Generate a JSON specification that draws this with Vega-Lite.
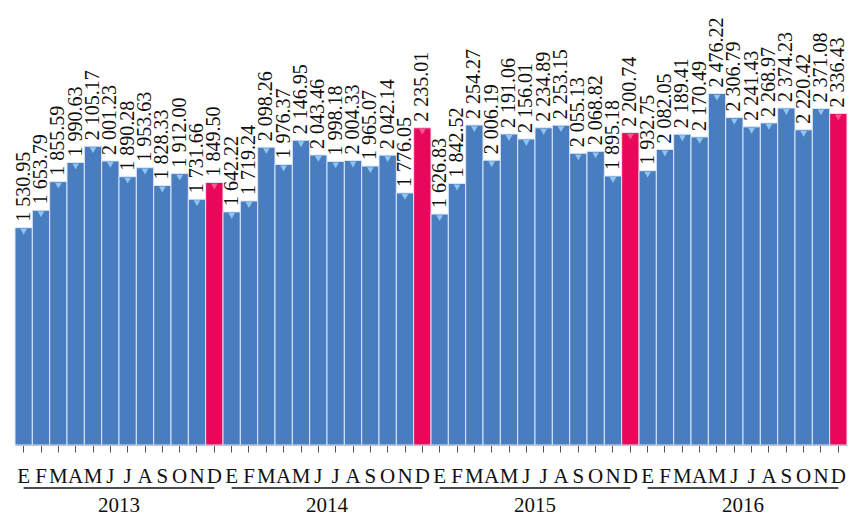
{
  "$schema": "https://vega.github.io/schema/vega-lite/v6.json",
  "width": 832,
  "height": 440,
  "padding": {"left": 13, "top": 5, "right": 3, "bottom": 5},
  "background": "white",
  "config": {
    "view": {"stroke": null}
  },
  "data": {
    "values": [
      {"m": "2013-01", "month": 1, "v": 1530.95},
      {"m": "2013-02", "month": 2, "v": 1653.79},
      {"m": "2013-03", "month": 3, "v": 1855.59},
      {"m": "2013-04", "month": 4, "v": 1990.63},
      {"m": "2013-05", "month": 5, "v": 2105.17},
      {"m": "2013-06", "month": 6, "v": 2001.23},
      {"m": "2013-07", "month": 7, "v": 1890.28},
      {"m": "2013-08", "month": 8, "v": 1953.63},
      {"m": "2013-09", "month": 9, "v": 1828.33},
      {"m": "2013-10", "month": 10, "v": 1912.00},
      {"m": "2013-11", "month": 11, "v": 1731.66},
      {"m": "2013-12", "month": 12, "v": 1849.50},
      {"m": "2014-01", "month": 1, "v": 1642.22},
      {"m": "2014-02", "month": 2, "v": 1719.24},
      {"m": "2014-03", "month": 3, "v": 2098.26},
      {"m": "2014-04", "month": 4, "v": 1976.37},
      {"m": "2014-05", "month": 5, "v": 2146.95},
      {"m": "2014-06", "month": 6, "v": 2043.46},
      {"m": "2014-07", "month": 7, "v": 1998.18},
      {"m": "2014-08", "month": 8, "v": 2004.33},
      {"m": "2014-09", "month": 9, "v": 1965.07},
      {"m": "2014-10", "month": 10, "v": 2042.14},
      {"m": "2014-11", "month": 11, "v": 1776.05},
      {"m": "2014-12", "month": 12, "v": 2235.01},
      {"m": "2015-01", "month": 1, "v": 1626.83},
      {"m": "2015-02", "month": 2, "v": 1842.52},
      {"m": "2015-03", "month": 3, "v": 2254.27},
      {"m": "2015-04", "month": 4, "v": 2006.19},
      {"m": "2015-05", "month": 5, "v": 2191.06},
      {"m": "2015-06", "month": 6, "v": 2156.01},
      {"m": "2015-07", "month": 7, "v": 2234.89},
      {"m": "2015-08", "month": 8, "v": 2253.15},
      {"m": "2015-09", "month": 9, "v": 2055.13},
      {"m": "2015-10", "month": 10, "v": 2068.82},
      {"m": "2015-11", "month": 11, "v": 1895.18},
      {"m": "2015-12", "month": 12, "v": 2200.74},
      {"m": "2016-01", "month": 1, "v": 1932.75},
      {"m": "2016-02", "month": 2, "v": 2082.05},
      {"m": "2016-03", "month": 3, "v": 2189.41},
      {"m": "2016-04", "month": 4, "v": 2170.49},
      {"m": "2016-05", "month": 5, "v": 2476.22},
      {"m": "2016-06", "month": 6, "v": 2306.79},
      {"m": "2016-07", "month": 7, "v": 2241.43},
      {"m": "2016-08", "month": 8, "v": 2268.97},
      {"m": "2016-09", "month": 9, "v": 2374.23},
      {"m": "2016-10", "month": 10, "v": 2220.42},
      {"m": "2016-11", "month": 11, "v": 2371.08},
      {"m": "2016-12", "month": 12, "v": 2336.43}
    ]
  },
  "layer": [
    {
      "mark": {"type": "bar", "stroke": "#dce8f6", "strokeWidth": 1},
      "encoding": {
        "x": {
          "field": "m", "type": "ordinal",
          "scale": {"paddingInner": 0, "paddingOuter": 0},
          "axis": {
            "title": null,
            "labelExpr": "['E','F','M','A','M','J','J','A','S','O','N','D'][toNumber(slice(datum.value,5))-1]",
            "labelAngle": 0,
            "labelOverlap": false,
            "labelFont": "Liberation Serif",
            "labelFontSize": 21,
            "labelColor": "#111",
            "labelPadding": 13,
            "tickSize": 7,
            "tickColor": "#555",
            "domainColor": "#999"
          }
        },
        "y": {
          "field": "v", "type": "quantitative",
          "scale": {"domain": [0, 3100], "nice": false},
          "axis": null
        },
        "color": {
          "condition": {"test": "datum.month == 12", "value": "#e8075b"},
          "value": "#4a7dc0"
        }
      }
    },
    {
      "mark": {"type": "point", "shape": "triangle-down", "filled": true, "size": 45, "yOffset": 4, "opacity": 1},
      "encoding": {
        "x": {"field": "m", "type": "ordinal"},
        "y": {"field": "v", "type": "quantitative"},
        "color": {
          "condition": {"test": "datum.month == 12", "value": "#f25a8e"},
          "value": "#8cc6f2"
        }
      }
    },
    {
      "transform": [{"calculate": "replace(format(datum.v, ',.2f'), ',', ' ')", "as": "lbl"}],
      "mark": {
        "type": "text", "angle": 270, "align": "left", "baseline": "middle",
        "dx": 6, "font": "Liberation Serif", "fontSize": 20, "color": "#111"
      },
      "encoding": {
        "x": {"field": "m", "type": "ordinal"},
        "y": {"field": "v", "type": "quantitative"},
        "text": {"field": "lbl"}
      }
    },
    {
      "data": {"values": [
        {"year": "2013", "start": "2013-01", "mid": "2013-06", "end": "2013-12"},
        {"year": "2014", "start": "2014-01", "mid": "2014-06", "end": "2014-12"},
        {"year": "2015", "start": "2015-01", "mid": "2015-06", "end": "2015-12"},
        {"year": "2016", "start": "2016-01", "mid": "2016-06", "end": "2016-12"}
      ]},
      "mark": {"type": "rule", "color": "#111", "strokeWidth": 1.6},
      "encoding": {
        "x": {"field": "start", "type": "ordinal"},
        "x2": {"field": "end"},
        "y": {"datum": -303}
      }
    },
    {
      "data": {"values": [
        {"year": "2013", "mid": "2013-06"},
        {"year": "2014", "mid": "2014-06"},
        {"year": "2015", "mid": "2015-06"},
        {"year": "2016", "mid": "2016-06"}
      ]},
      "mark": {"type": "text", "font": "Liberation Serif", "fontSize": 21, "color": "#111", "baseline": "alphabetic", "align": "center"},
      "encoding": {
        "x": {"field": "mid", "type": "ordinal", "bandPosition": 1},
        "y": {"datum": -472},
        "text": {"field": "year"}
      }
    }
  ]
}
